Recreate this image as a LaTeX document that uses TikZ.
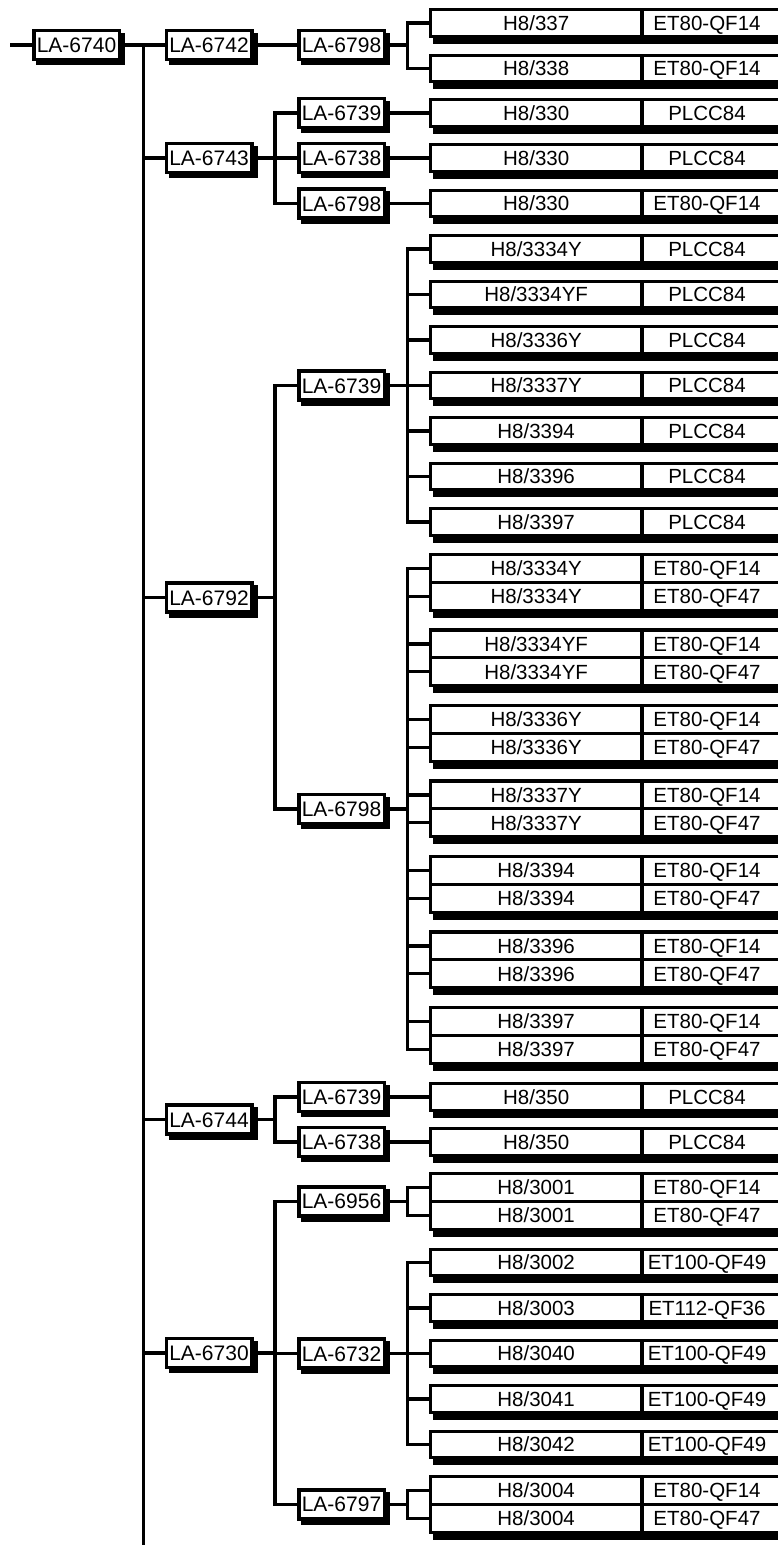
\documentclass[tikz,border=0pt]{standalone}
\usepackage{fontspec}
\setmainfont{Liberation Sans}
\usepackage{tikz}
\usetikzlibrary{positioning,shadows}

\begin{document}
\begin{tikzpicture}
[x=1pt, y=-1pt, font=\fontsize{20.5pt}{24pt}\selectfont,
% STYLES
every node/.style={outer sep=0pt, inner sep=0pt},
% The board style is used to draw the LA boards
board/.style={rectangle, draw, fill=white, line width=3.5pt, minimum width=85.5pt, minimum height=29pt, text height=15pt, text depth=0pt, font=\fontsize{21pt}{24pt}\selectfont, general shadow={fill=black, draw=black, line width=3.5pt, shadow xshift=4pt, shadow yshift=-4pt}},
% The chip style is used to draw the left cell of a part (its name)
chip/.style={rectangle, draw, fill=white, line width=3.2pt, anchor=west, minimum width=211.7pt, minimum height=26.4pt, text height=14.7pt, text depth=0pt, general shadow={fill=black, draw=black, line width=3.2pt, shadow xshift=4pt, shadow yshift=-6pt}},
% The pack style is used to draw the right cell of a part (its package), cut by the page edge
pack/.style={chip, minimum width=146pt, execute at begin node={\hbox to 130pt\bgroup\hss}, execute at end node={\hss\egroup\kern16pt}},
% The two rows of a pair are a little taller
tall/.style={minimum height=27.8pt},
% The link style is used to draw the lines between boards and parts
link/.style={line width=3.2pt},
branch/.style={to path={-- ++(#1,0) |- (\tikztotarget)}},
branch/.default=23.25]

\useasboundingbox (0,0) rectangle (777,1545);

% Draw boards
\node [board] (la6740) at (76.5,45) {LA-6740};
\node [board] (la6742) at (209,45) {LA-6742};
\node [board] (la6743) at (209,158) {LA-6743};
\node [board] (la6792) at (209,597.5) {LA-6792};
\node [board] (la6744) at (209,1119.5) {LA-6744};
\node [board] (la6730) at (209,1353) {LA-6730};

\node [board] (la6798a) at (341.5,45) {LA-6798};
\node [board] (la6739b) at (341.5,113) {LA-6739};
\node [board] (la6738b) at (341.5,158) {LA-6738};
\node [board] (la6798b) at (341.5,203.5) {LA-6798};
\node [board] (la6739c) at (341.5,385.5) {LA-6739};
\node [board] (la6798c) at (341.5,809) {LA-6798};
\node [board] (la6739d) at (341.5,1097) {LA-6739};
\node [board] (la6738d) at (341.5,1142) {LA-6738};
\node [board] (la6956) at (341.5,1201.4) {LA-6956};
\node [board] (la6732) at (341.5,1353.5) {LA-6732};
\node [board] (la6797) at (341.5,1504.4) {LA-6797};

%%%%%%%%%%%%%%%
% Draw parts

% la6798a
\node [chip] (chip-a1) at (430.3,23) {H8/337};     \node [pack, right=0pt of chip-a1] (pack-a1) {ET80-QF14};
\node [chip] (chip-a2) at (430.3,68.5) {H8/338};   \node [pack, right=0pt of chip-a2] (pack-a2) {ET80-QF14};

% la6739b, la6738b, la6798b
\node [chip] (chip-b1) at (430.3,113) {H8/330};    \node [pack, right=0pt of chip-b1] (pack-b1) {PLCC84};
\node [chip] (chip-b2) at (430.3,158) {H8/330};    \node [pack, right=0pt of chip-b2] (pack-b2) {PLCC84};
\node [chip] (chip-b3) at (430.3,203.5) {H8/330};  \node [pack, right=0pt of chip-b3] (pack-b3) {ET80-QF14};

% la6739c
\node [chip] (chip-c1) at (430.3,249) {H8/3334Y};   \node [pack, right=0pt of chip-c1] (pack-c1) {PLCC84};
\node [chip] (chip-c2) at (430.3,294.5) {H8/3334YF};\node [pack, right=0pt of chip-c2] (pack-c2) {PLCC84};
\node [chip] (chip-c3) at (430.3,340) {H8/3336Y};   \node [pack, right=0pt of chip-c3] (pack-c3) {PLCC84};
\node [chip] (chip-c4) at (430.3,385.5) {H8/3337Y}; \node [pack, right=0pt of chip-c4] (pack-c4) {PLCC84};
\node [chip] (chip-c5) at (430.3,431) {H8/3394};    \node [pack, right=0pt of chip-c5] (pack-c5) {PLCC84};
\node [chip] (chip-c6) at (430.3,476.5) {H8/3396};  \node [pack, right=0pt of chip-c6] (pack-c6) {PLCC84};
\node [chip] (chip-c7) at (430.3,522) {H8/3397};    \node [pack, right=0pt of chip-c7] (pack-c7) {PLCC84};

% la6798c
\node [chip, tall] (chip-d1a) at (430.3,568.4) {H8/3334Y};     \node [pack, tall, right=0pt of chip-d1a] (pack-d1a) {ET80-QF14};
\node [chip, tall, below=0pt of chip-d1a] (chip-d1b) {H8/3334Y};\node [pack, tall, right=0pt of chip-d1b] (pack-d1b) {ET80-QF47};
\node [chip, tall] (chip-d2a) at (430.3,643.9) {H8/3334YF};    \node [pack, tall, right=0pt of chip-d2a] (pack-d2a) {ET80-QF14};
\node [chip, tall, below=0pt of chip-d2a] (chip-d2b) {H8/3334YF};\node [pack, tall, right=0pt of chip-d2b] (pack-d2b) {ET80-QF47};
\node [chip, tall] (chip-d3a) at (430.3,719.4) {H8/3336Y};     \node [pack, tall, right=0pt of chip-d3a] (pack-d3a) {ET80-QF14};
\node [chip, tall, below=0pt of chip-d3a] (chip-d3b) {H8/3336Y};\node [pack, tall, right=0pt of chip-d3b] (pack-d3b) {ET80-QF47};
\node [chip, tall] (chip-d4a) at (430.3,794.9) {H8/3337Y};     \node [pack, tall, right=0pt of chip-d4a] (pack-d4a) {ET80-QF14};
\node [chip, tall, below=0pt of chip-d4a] (chip-d4b) {H8/3337Y};\node [pack, tall, right=0pt of chip-d4b] (pack-d4b) {ET80-QF47};
\node [chip, tall] (chip-d5a) at (430.3,870.4) {H8/3394};      \node [pack, tall, right=0pt of chip-d5a] (pack-d5a) {ET80-QF14};
\node [chip, tall, below=0pt of chip-d5a] (chip-d5b) {H8/3394}; \node [pack, tall, right=0pt of chip-d5b] (pack-d5b) {ET80-QF47};
\node [chip, tall] (chip-d6a) at (430.3,945.9) {H8/3396};      \node [pack, tall, right=0pt of chip-d6a] (pack-d6a) {ET80-QF14};
\node [chip, tall, below=0pt of chip-d6a] (chip-d6b) {H8/3396}; \node [pack, tall, right=0pt of chip-d6b] (pack-d6b) {ET80-QF47};
\node [chip, tall] (chip-d7a) at (430.3,1021.4) {H8/3397};     \node [pack, tall, right=0pt of chip-d7a] (pack-d7a) {ET80-QF14};
\node [chip, tall, below=0pt of chip-d7a] (chip-d7b) {H8/3397}; \node [pack, tall, right=0pt of chip-d7b] (pack-d7b) {ET80-QF47};

% la6739d, la6738d
\node [chip] (chip-e1) at (430.3,1097) {H8/350};   \node [pack, right=0pt of chip-e1] (pack-e1) {PLCC84};
\node [chip] (chip-e2) at (430.3,1142) {H8/350};   \node [pack, right=0pt of chip-e2] (pack-e2) {PLCC84};

% la6956
\node [chip, tall] (chip-f1a) at (430.3,1187.4) {H8/3001};     \node [pack, tall, right=0pt of chip-f1a] (pack-f1a) {ET80-QF14};
\node [chip, tall, below=0pt of chip-f1a] (chip-f1b) {H8/3001}; \node [pack, tall, right=0pt of chip-f1b] (pack-f1b) {ET80-QF47};

% la6732
\node [chip] (chip-g1) at (430.3,1262.5) {H8/3002}; \node [pack, right=0pt of chip-g1] (pack-g1) {ET100-QF49};
\node [chip] (chip-g2) at (430.3,1308) {H8/3003};   \node [pack, right=0pt of chip-g2] (pack-g2) {ET112-QF36};
\node [chip] (chip-g3) at (430.3,1353.5) {H8/3040}; \node [pack, right=0pt of chip-g3] (pack-g3) {ET100-QF49};
\node [chip] (chip-g4) at (430.3,1399) {H8/3041};   \node [pack, right=0pt of chip-g4] (pack-g4) {ET100-QF49};
\node [chip] (chip-g5) at (430.3,1444.5) {H8/3042}; \node [pack, right=0pt of chip-g5] (pack-g5) {ET100-QF49};

% la6797
\node [chip, tall] (chip-h1a) at (430.3,1490.4) {H8/3004};     \node [pack, tall, right=0pt of chip-h1a] (pack-h1a) {ET80-QF14};
\node [chip, tall, below=0pt of chip-h1a] (chip-h1b) {H8/3004}; \node [pack, tall, right=0pt of chip-h1b] (pack-h1b) {ET80-QF47};

%%%%%%%%%%%%%%%%

% Draw the links between boards and parts
\coordinate (lead-in) at (10,45);
\coordinate (trunk-end) at (143.75,1545);
\draw[link] (lead-in) -- (la6740.west);
\draw[link] (la6740.east) -| (trunk-end);

\path[link]
(la6740.east) edge[branch=24.5] (la6742.west) edge[branch=24.5] (la6743.west) edge[branch=24.5] (la6792.west)
              edge[branch=24.5] (la6744.west) edge[branch=24.5] (la6730.west)
(la6742.east) edge[branch] (la6798a.west)
(la6743.east) edge[branch] (la6739b.west) edge[branch] (la6738b.west) edge[branch] (la6798b.west)
(la6792.east) edge[branch] (la6739c.west) edge[branch] (la6798c.west)
(la6744.east) edge[branch] (la6739d.west) edge[branch] (la6738d.west)
(la6730.east) edge[branch] (la6956.west) edge[branch] (la6732.west) edge[branch] (la6797.west)
(la6798a.east) edge[branch] (chip-a1.west) edge[branch] (chip-a2.west)
(la6739b.east) edge (chip-b1.west)
(la6738b.east) edge (chip-b2.west)
(la6798b.east) edge (chip-b3.west)
(la6739c.east) edge[branch] (chip-c1.west) edge[branch] (chip-c2.west) edge[branch] (chip-c3.west) edge[branch] (chip-c4.west)
               edge[branch] (chip-c5.west) edge[branch] (chip-c6.west) edge[branch] (chip-c7.west)
(la6798c.east) edge[branch] (chip-d1a.west) edge[branch] (chip-d1b.west) edge[branch] (chip-d2a.west) edge[branch] (chip-d2b.west)
               edge[branch] (chip-d3a.west) edge[branch] (chip-d3b.west) edge[branch] (chip-d4a.west) edge[branch] (chip-d4b.west)
               edge[branch] (chip-d5a.west) edge[branch] (chip-d5b.west) edge[branch] (chip-d6a.west) edge[branch] (chip-d6b.west)
               edge[branch] (chip-d7a.west) edge[branch] (chip-d7b.west)
(la6739d.east) edge (chip-e1.west)
(la6738d.east) edge (chip-e2.west)
(la6956.east) edge[branch] (chip-f1a.west) edge[branch] (chip-f1b.west)
(la6732.east) edge[branch] (chip-g1.west) edge[branch] (chip-g2.west) edge[branch] (chip-g3.west) edge[branch] (chip-g4.west)
              edge[branch] (chip-g5.west)
(la6797.east) edge[branch] (chip-h1a.west) edge[branch] (chip-h1b.west);

\end{tikzpicture}
\end{document}
